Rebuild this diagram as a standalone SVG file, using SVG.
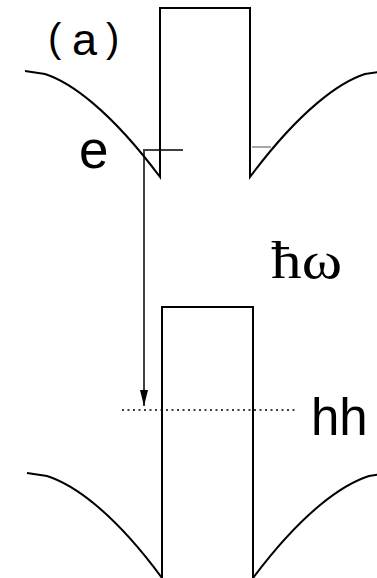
<svg xmlns="http://www.w3.org/2000/svg" width="377" height="578" viewBox="0 0 377 578">
<style>
.ln{fill:none;stroke:#000;stroke-width:2;stroke-linejoin:miter}
.thin{fill:none;stroke:#000;stroke-width:1.5}
.lbl{font-family:"Liberation Sans",Arial,sans-serif;fill:#000}
.ser{font-family:"Liberation Serif","Times New Roman",serif;fill:#000}
</style>
<defs>
<marker id="ah" viewBox="0 0 16 8" refX="16" refY="4" markerWidth="16" markerHeight="8" markerUnits="userSpaceOnUse" orient="auto">
<path d="M0,0 L16,4 L0,8 Z" fill="#000"/>
</marker>
</defs>
<rect width="377" height="578" fill="#fff"/>
<g id="conduction-band">
<path class="ln" d="M25,71 L45,74 C70,82 110,110 160,177 V8 H250 V177 C300,110 340,82 365,74 L385,71"/>
</g>
<g id="valence-band">
<path class="ln" d="M27,473 L47,476 C72,484 112,510 162,578 V307 H253 V578 C304,510 344,484 369,476 L389,473"/>
</g>
<g id="levels">
<line class="thin" x1="143" y1="150" x2="183" y2="150"/>
<line x1="252" y1="147" x2="271" y2="147" stroke="#888" stroke-width="1.5"/>
<line x1="122" y1="410" x2="297" y2="410" stroke="#000" stroke-width="1.5" stroke-dasharray="2,3.5"/>
</g>
<g id="connectors">
<line class="thin" x1="144" y1="151" x2="144" y2="406" marker-end="url(#ah)"/>
</g>
<g id="labels">
<text class="lbl" x="48" y="52" font-size="40">(</text>
<text class="lbl" x="72" y="55" font-size="45">a</text>
<text class="lbl" x="106" y="52" font-size="40">)</text>
<text class="lbl" x="79" y="168" font-size="53">e</text>
<text class="ser" x="271" y="278" font-size="52" textLength="71" lengthAdjust="spacingAndGlyphs">ħω</text>
<text class="lbl" x="311" y="435" font-size="51">hh</text>
</g>
</svg>
